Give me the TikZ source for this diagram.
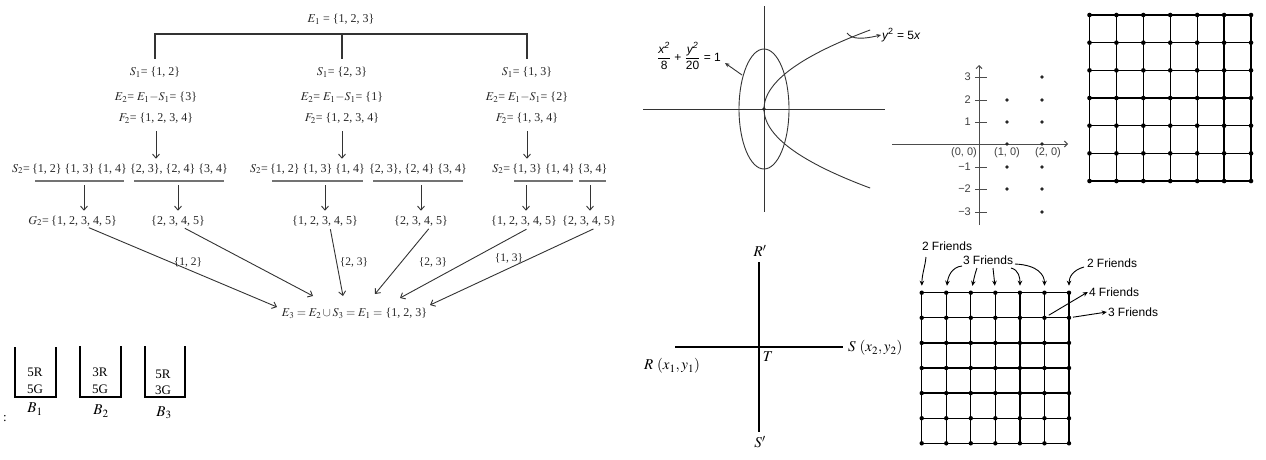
\documentclass[tikz,border=0pt]{standalone}
\usepackage{amsmath}
\usepackage{mathptmx}
\usepackage{fontspec}
\setmainfont{Liberation Serif}
\setsansfont{Liberation Sans}
\usetikzlibrary{arrows.meta}
\begin{document}
\begin{tikzpicture}[x=1pt,y=-1pt,
  tr/.style={font=\fontsize{12}{14}\selectfont, inner sep=1pt, text=black!85},
  lb/.style={font=\fontsize{11.5}{13}\selectfont, inner sep=1pt, text=black!85},
  tline/.style={draw=black!80, line width=1.1pt},
  arr/.style={draw=black!80, line width=0.9pt, -{Straight Barb[length=4pt,width=7pt]}},
  ul/.style={draw=black!55, line width=1.4pt},
  bucket/.style={draw=black, line width=1.4pt},
  bk/.style={font=\fontsize{13}{15}\selectfont, inner sep=0pt},
  bl/.style={font=\fontsize{15}{17}\selectfont, inner sep=0pt},
  sfl/.style={font=\sffamily\fontsize{12}{14}\selectfont, inner sep=1pt},
  nl/.style={font=\sffamily\fontsize{11}{13}\selectfont, inner sep=1pt, text=black!75},
  ax/.style={draw=black!80, line width=0.9pt},
  dax/.style={draw=black!70, line width=1pt},
  farr/.style={draw=black, line width=0.9pt, -{Stealth[length=5pt,width=4.5pt]}},
  gline/.style={draw=black, line width=1.3pt},
  rs/.style={draw=black, line width=1.6pt},
  rl/.style={font=\fontsize{15}{17}\selectfont, inner sep=1pt}
]
\useasboundingbox (0,0) rectangle (1266,459);

% ---------------- tree ----------------
\node[tr] (e1) at (341,19) {$E_1$ = \{1, 2, 3\}};
\coordinate (bar) at (341,34);
\node[tr] (s1a) at (155,72) {$S_1$= \{1, 2\}};
\node[tr] (s1b) at (342,72) {$S_1$= \{2, 3\}};
\node[tr] (s1c) at (527,72) {$S_1$= \{1, 3\}};
\draw[tline] ([yshift=7pt]s1a.north) |- (bar) -| ([yshift=7pt]s1c.north);
\draw[tline] (bar) -| ([yshift=7pt]s1b.north);

\node[tr] (e2a) at (156,97) {$E_2$= $E_1{-}S_1$= \{3\}};
\node[tr] (e2b) at (342,97) {$E_2$= $E_1{-}S_1$= \{1\}};
\node[tr] (e2c) at (527,97) {$E_2$= $E_1{-}S_1$= \{2\}};
\node[tr] (f2a) at (156,118) {$F_2$= \{1, 2, 3, 4\}};
\node[tr] (f2b) at (342,118) {$F_2$= \{1, 2, 3, 4\}};
\node[tr] (f2c) at (527,118) {$F_2$= \{1, 3, 4\}};

% S2 rows
\node[tr] (ga1) at (79.5,169) {\{1, 2\} \{1, 3\} \{1, 4\}};
\node[tr] (ga2) at (179,169) {\{2, 3\}, \{2, 4\} \{3, 4\}};
\node[tr, anchor=east] (ga0) at (ga1.west) {$S_2$=};
\node[tr] (gb1) at (317.5,169) {\{1, 2\} \{1, 3\} \{1, 4\}};
\node[tr] (gb2) at (418,169) {\{2, 3\}, \{2, 4\} \{3, 4\}};
\node[tr, anchor=east] (gb0) at (gb1.west) {$S_2$=};
\node[tr] (gc1) at (543.5,169) {\{1, 3\} \{1, 4\}};
\node[tr] (gc2) at (592.5,169) {\{3, 4\}};
\node[tr, anchor=east] (gc0) at (gc1.west) {$S_2$=};
\draw[ul] (35,181) -- (124,181);
\draw[ul] (134,181) -- (224,181);
\draw[ul] (272,181) -- (363,181);
\draw[ul] (373,181) -- (463,181);
\draw[ul] (514,181) -- (573,181);
\draw[ul] (579,181) -- (606,181);

\draw[arr, shorten <=7pt, shorten >=4pt] (f2a.south) -- (f2a.south |- ga2.north);
\draw[arr, shorten <=7pt, shorten >=4pt] (f2b.south) -- (f2b.south |- gb2.north);
\draw[arr, shorten <=7pt, shorten >=4pt] (f2c.south) -- (f2c.south |- gc1.north);

% G row
\node[tr] (sa) at (84,221) {\{1, 2, 3, 4, 5\}};
\node[tr, anchor=east] (g2) at (sa.west) {$G_2$=};
\node[tr] (sb) at (178,221) {\{2, 3, 4, 5\}};
\node[tr] (sc) at (325,221) {\{1, 2, 3, 4, 5\}};
\node[tr] (sd) at (421,221) {\{2, 3, 4, 5\}};
\node[tr] (se) at (524,221) {\{1, 2, 3, 4, 5\}};
\node[tr] (sf) at (589,221) {\{2, 3, 4, 5\}};
\draw[arr, shorten <=10pt, shorten >=4pt] (sa.north |- ga1.south) -- (sa.north);
\draw[arr, shorten <=10pt, shorten >=4pt] (sb.north |- ga2.south) -- (sb.north);
\draw[arr, shorten <=10pt, shorten >=4pt] (sc.north |- gb1.south) -- (sc.north);
\draw[arr, shorten <=10pt, shorten >=4pt] (sd.north |- gb2.south) -- (sd.north);
\draw[arr, shorten <=10pt, shorten >=4pt] ([xshift=2pt]se.north |- gc1.south) -- ([xshift=2pt]se.north);
\draw[arr, shorten <=10pt, shorten >=4pt] ([xshift=1pt]sf.north |- gc2.south) -- ([xshift=1pt]sf.north);

% E3
\node[tr] (e3) at (354.5,313) {$E_3 = E_2 \cup S_3 = E_1 =$ \{1, 2, 3\}};
\coordinate (t1) at (277,307);
\coordinate (t2) at (313,296);
\coordinate (t3) at (343,296);
\coordinate (t4) at (375,294);
\coordinate (t5) at (400,298);
\coordinate (t6) at (430,305);
\draw[arr, shorten <=1pt] ([xshift=4pt]sa.south) -- (t1);
\draw[arr, shorten <=2pt] ([xshift=5pt]sb.south) -- (t2);
\draw[arr, shorten <=2pt] ([xshift=5pt]sc.south) -- (t3);
\draw[arr, shorten <=2pt] ([xshift=9pt]sd.south) -- (t4);
\draw[arr, shorten <=4pt] ([xshift=6pt]se.south) -- (t5);
\draw[arr, shorten <=4pt] ([xshift=8pt]sf.south) -- (t6);
\node[lb] (l1) at (188,262) {\{1, 2\}};
\node[lb] (l2) at (354,262) {\{2, 3\}};
\node[lb] (l3) at (433,262) {\{2, 3\}};
\node[lb] (l4) at (509,258) {\{1, 3\}};

% ---------------- buckets ----------------
\draw[bucket] (15,347) |- (56,397) -- (56,347);
\draw[bucket] (80,346) |- (121,397) -- (121,346);
\draw[bucket] (145,346) |- (185,397) -- (185,346);
\node[bk] (k1) at (35,372) {5R};
\node[bk] (k2) at (35,389) {5G};
\node[bk] (k3) at (100,372) {3R};
\node[bk] (k4) at (100,389) {5G};
\node[bk] (k5) at (163,374) {5R};
\node[bk] (k6) at (163,390) {3G};
\node[bl] (bb1) at (35,409) {$B_1$};
\node[bl] (bb2) at (101,411) {$B_2$};
\node[bl] (bb3) at (164,413) {$B_3$};
\node[bk] (colon) at (5,419) {:};

% ---------------- ellipse & parabola ----------------
\draw[ax] (643,109) -- (885,109);
\draw[ax] (764,6) -- (764,212);
\draw[ax] (764,109) ellipse [x radius=25pt, y radius=60pt];
\draw[ax, variable=\t, domain=-79:79, samples=81, smooth] plot ({764+0.017*\t*\t},{109+\t});
\fill[black!85] (764,109) circle (1.8pt);
\node[sfl] (el) at (689,56) {$\dfrac{\text{\itshape x\textsuperscript{2}}}{\text{8}}\text{ + }\dfrac{\text{\itshape y\textsuperscript{2}}}{\text{20}}\text{ = 1}$};
\draw[ax, -{Stealth[length=4.5pt,width=4pt]}] (742,75) -- (725,63);
\node[sfl, anchor=west] (pl) at (881,35) {{\itshape y}\textsuperscript{2} = 5{\itshape x}};
\draw[ax, -{Stealth[length=4.5pt,width=4pt]}] (847,33) .. controls (852,40) and (864,39) .. (pl.west);

% ---------------- lattice points ----------------
\draw[dax, -{Straight Barb[length=3pt,width=6pt]}] (892,144) -- (1068,144);
\draw[dax, -{Straight Barb[length=3pt,width=6pt]}] (979,225) -- (979,65);
\foreach \v/\yy/\nm in {3/77/a,2/100/b,1/122/c,−1/167/d,−2/189/e,−3/212/f} {
  \draw[dax] (975,\yy) -- (987,\yy);
  \node[nl, anchor=east] (tk\nm) at (972,\yy) {\v};
}
\foreach \yy in {100,122,144,167,189} \fill[black!85] (1007,\yy) circle (1.8pt);
\foreach \yy in {77,100,122,144,167,189,212} \fill[black!85] (1042,\yy) circle (1.8pt);
\node[nl] (o0) at (964,153) {(0, 0)};
\node[nl] (o1) at (1007,153) {(1, 0)};
\node[nl] (o2) at (1048,153) {(2, 0)};

% ---------------- top right grid ----------------
\foreach \i in {0,...,6} {
  \draw[gline] ({1089.5+26.92*\i},15) -- ({1089.5+26.92*\i},181);
  \draw[gline] (1089.5,{15+27.67*\i}) -- (1251,{15+27.67*\i});
}
\foreach \i in {0,...,6} \foreach \j in {0,...,6}
  \fill ({1089.5+26.92*\i},{15+27.67*\j}) circle (2.3pt);

% ---------------- R S T ----------------
\draw[rs] (759,262) -- (759,432);
\draw[rs] (675,347) -- (843,347);
\node[rl] (rp) at (760,251) {$R'$};
\node[rl] (sp) at (760,442) {$S'$};
\node[rl] (tt) at (768,357) {$T$};
\node[rl] (rr) at (672,366) {$R\ (x_1, y_1)$};
\node[rl, anchor=west] (ss) at (847,348) {$S\ (x_2, y_2)$};

% ---------------- friends grid ----------------
\foreach \i in {0,...,6} \foreach \j in {0,...,6}
  \coordinate (b\i\j) at ({921.7+24.55*\i},{292.7+25.1*\j});
\foreach \i in {0,...,6} {
  \draw[gline] (b\i0) -- (b\i6);
  \draw[gline] (b0\i) -- (b6\i);
}
\foreach \i in {0,...,6} \foreach \j in {0,...,6}
  \fill (b\i\j) circle (2.2pt);
\node[sfl] (fa) at (947,246) {2 Friends};
\node[sfl] (fb) at (988,260) {3 Friends};
\node[sfl] (fc) at (1112,263) {2 Friends};
\node[sfl] (fd) at (1114,292) {4 Friends};
\node[sfl] (fe) at (1133,312) {3 Friends};
\draw[farr, shorten >=7pt] (926,257) .. controls (925,267) and (922,274) .. (b00);
\draw[farr, shorten >=7pt] (962,266) .. controls (952,267) and (948,276) .. (b10);
\draw[farr, shorten >=7pt] (977,268) .. controls (975,274) .. (b20);
\draw[farr, shorten >=7pt] (993,268) .. controls (994,275) .. (b30);
\draw[farr, shorten >=7pt] (1011,268) .. controls (1019,270) and (1020,278) .. (b40);
\draw[farr, shorten >=7pt] (1015,264) .. controls (1038,265) and (1044.5,275) .. (b50);
\draw[farr, shorten >=7pt] (1084,267) .. controls (1073,270) and (1069,277) .. (b60);
\draw[farr, shorten <=5pt] (b51) -- (fd.west);
\draw[farr, shorten <=4pt] (b61) -- (fe.west);
\end{tikzpicture}
\end{document}
